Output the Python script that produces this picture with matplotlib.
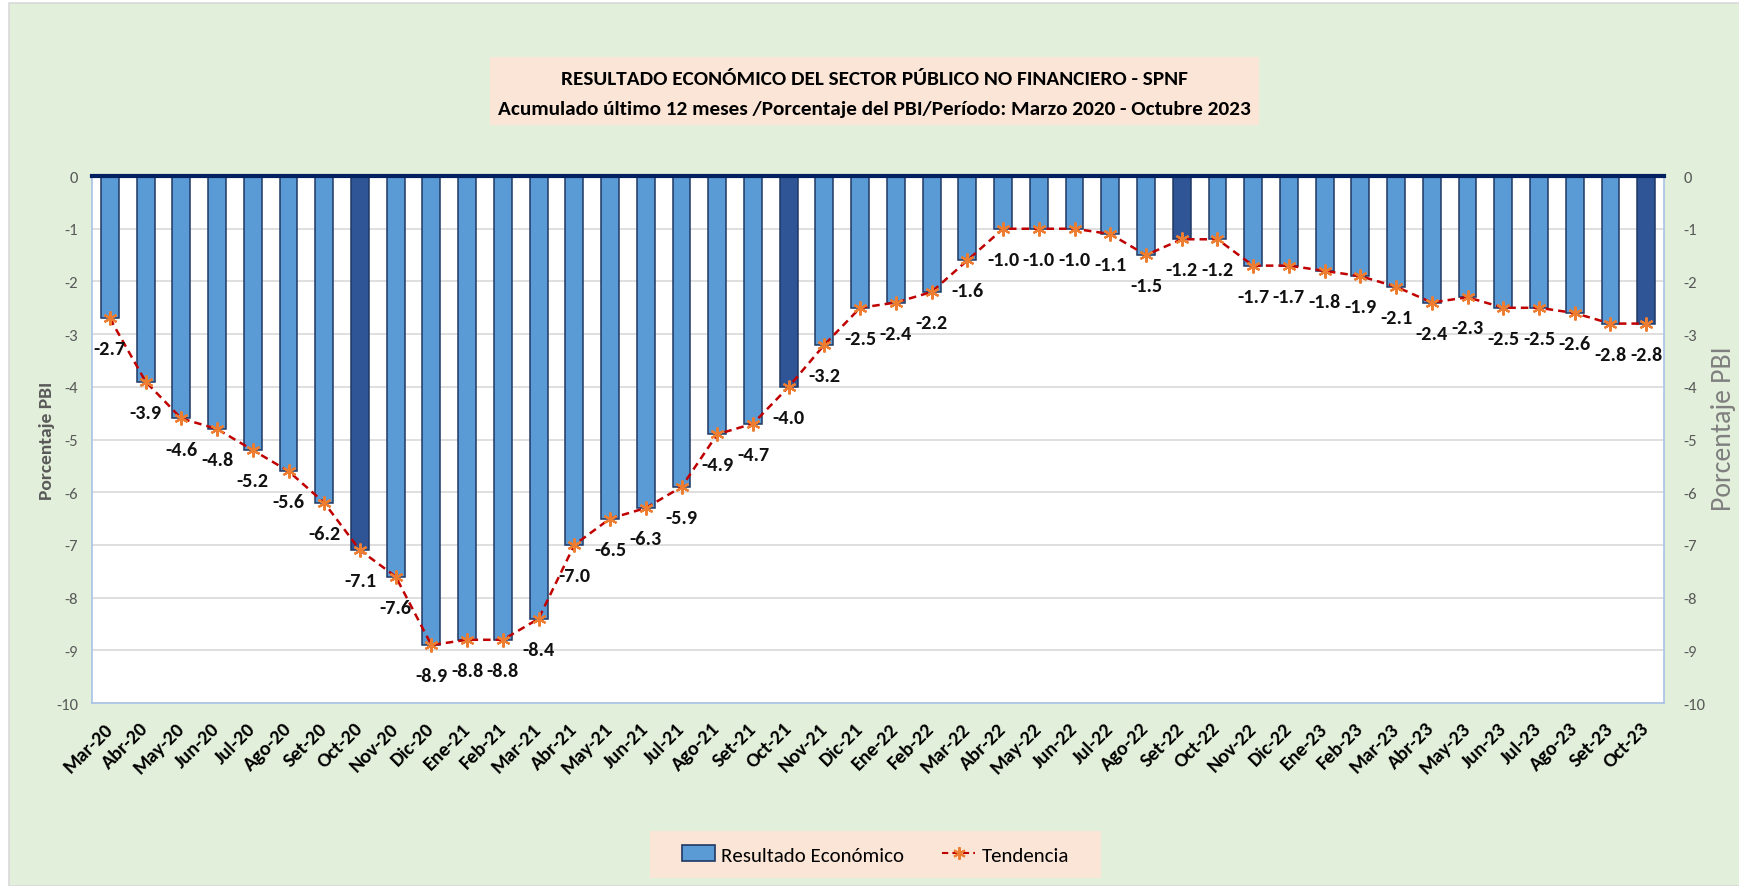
import numpy as np
import matplotlib.pyplot as plt
from matplotlib.patches import Rectangle, Patch
from matplotlib.lines import Line2D

meses = ['Mar-20', 'Abr-20', 'May-20', 'Jun-20', 'Jul-20', 'Ago-20', 'Set-20', 'Oct-20', 'Nov-20', 'Dic-20',
         'Ene-21', 'Feb-21', 'Mar-21', 'Abr-21', 'May-21', 'Jun-21', 'Jul-21', 'Ago-21', 'Set-21', 'Oct-21',
         'Nov-21', 'Dic-21', 'Ene-22', 'Feb-22', 'Mar-22', 'Abr-22', 'May-22', 'Jun-22', 'Jul-22', 'Ago-22',
         'Set-22', 'Oct-22', 'Nov-22', 'Dic-22', 'Ene-23', 'Feb-23', 'Mar-23', 'Abr-23', 'May-23', 'Jun-23',
         'Jul-23', 'Ago-23', 'Set-23', 'Oct-23']
resultado = [-2.7, -3.9, -4.6, -4.8, -5.2, -5.6, -6.2, -7.1, -7.6, -8.9,
             -8.8, -8.8, -8.4, -7.0, -6.5, -6.3, -5.9, -4.9, -4.7, -4.0,
             -3.2, -2.5, -2.4, -2.2, -1.6, -1.0, -1.0, -1.0, -1.1, -1.5,
             -1.2, -1.2, -1.7, -1.7, -1.8, -1.9, -2.1, -2.4, -2.3, -2.5,
             -2.5, -2.6, -2.8, -2.8]
destacados = ['Oct-20', 'Oct-21', 'Set-22', 'Oct-23']
y_ticks = [0, -1, -2, -3, -4, -5, -6, -7, -8, -9, -10]

titulo1 = 'RESULTADO ECONÓMICO DEL SECTOR PÚBLICO NO FINANCIERO - SPNF'
titulo2 = 'Acumulado último 12 meses /Porcentaje del PBI/Período: Marzo 2020 - Octubre 2023'

plt.rcParams['font.family'] = ['Carlito', 'Liberation Sans', 'DejaVu Sans']
plt.rcParams['axes.unicode_minus'] = False

verde = '#E2EFDA'
salmon = '#FBE5D6'
azul = '#5B9BD5'
azul_osc = '#2F5597'
borde = '#1F3864'
gris = '#595959'

fig = plt.figure(figsize=(17.39, 8.87), dpi=100)
fig.patch.set_facecolor('white')
fig.patches.append(Rectangle((0.0052, 0), 1.0, 0.9955, transform=fig.transFigure,
                             facecolor=verde, edgecolor='#D9D9D9', lw=1.2, zorder=-10))

ax = fig.add_axes([0.0529, 0.2063, 0.9040, 0.5941])
ax.set_facecolor('white')
x = np.arange(len(meses))
colores = [azul_osc if m in destacados else azul for m in meses]
ax.bar(x, resultado, width=0.5, color=colores, edgecolor=borde, linewidth=1.1, zorder=2)
ax.plot(x, resultado, color='#C00000', ls=(0, (3, 2)), lw=1.8, marker=(6, 2, 0),
        markersize=10, markeredgecolor='#ED7D31', markeredgewidth=1.6, zorder=3)

for xi, v in zip(x, resultado):
    ax.annotate(f'{v:.1f}', (xi, v), xytext=(0, -22), textcoords='offset points',
                ha='center', va='center', fontsize=14.5, fontweight='bold',
                color='#111111', zorder=4)

ax.set_xlim(-0.5, len(meses) - 0.5)
ax.set_ylim(-10, 0)
ax.set_yticks(y_ticks)
ax.grid(axis='y', color='#D9D9D9', lw=1.2, zorder=0)
ax.set_axisbelow(True)
ax.tick_params(axis='y', length=0, labelsize=12, labelcolor=gris, pad=10)
ax.set_xticks(x)
ax.set_xticklabels(meses, rotation=45, ha='right', va='center', rotation_mode='anchor',
                   fontsize=14.5, fontweight='bold')
ax.tick_params(axis='x', length=0, pad=16)
for s in ['left', 'right', 'bottom']:
    ax.spines[s].set_color('#A9C1E8')
    ax.spines[s].set_linewidth(1.2)
ax.spines['top'].set_color('#002060')
ax.spines['top'].set_linewidth(3)

ax2 = ax.twinx()
ax2.set_ylim(-10, 0)
ax2.set_yticks(y_ticks)
ax2.tick_params(axis='y', length=0, labelsize=12, labelcolor=gris, pad=14)
for s in ax2.spines.values():
    s.set_visible(False)

fig.text(0.027, 0.503, 'Porcentaje PBI', rotation=90, ha='center', va='center',
         fontsize=14, fontweight='bold', color=gris)
fig.text(0.991, 0.517, 'Porcentaje PBI', rotation=90, ha='center', va='center',
         fontsize=20, color='#7F7F7F')

# titulo
fig.patches.append(Rectangle((0.2818, 0.8579), 0.4422, 0.0767, transform=fig.transFigure,
                             facecolor=salmon, edgecolor='none', zorder=-5))
fig.text(0.5029, 0.9109, titulo1, ha='center', va='center', fontsize=15.3, fontweight='bold')
fig.text(0.5029, 0.8760, titulo2, ha='center', va='center', fontsize=15.3, fontweight='bold')

# leyenda
fig.patches.append(Rectangle((0.3738, 0.009), 0.2593, 0.053, transform=fig.transFigure,
                             facecolor=salmon, edgecolor='none', zorder=-5))
handles = [Patch(facecolor=azul, edgecolor=borde, lw=1.2),
           Line2D([], [], color='#C00000', ls=(0, (3, 2)), lw=1.5, marker=(6, 2, 0), markersize=9,
                  markeredgecolor='#ED7D31', markeredgewidth=1.5)]
leg = fig.legend(handles, ['Resultado Económico', 'Tendencia'], loc='center', bbox_to_anchor=(0.5034, 0.0355),
                 ncol=2, fontsize=15, frameon=False, handlelength=1.6, handleheight=0.8,
                 handletextpad=0.3, columnspacing=1.8, borderpad=0.6, borderaxespad=0)

fig.savefig('out.png', dpi=100, facecolor=fig.get_facecolor())
